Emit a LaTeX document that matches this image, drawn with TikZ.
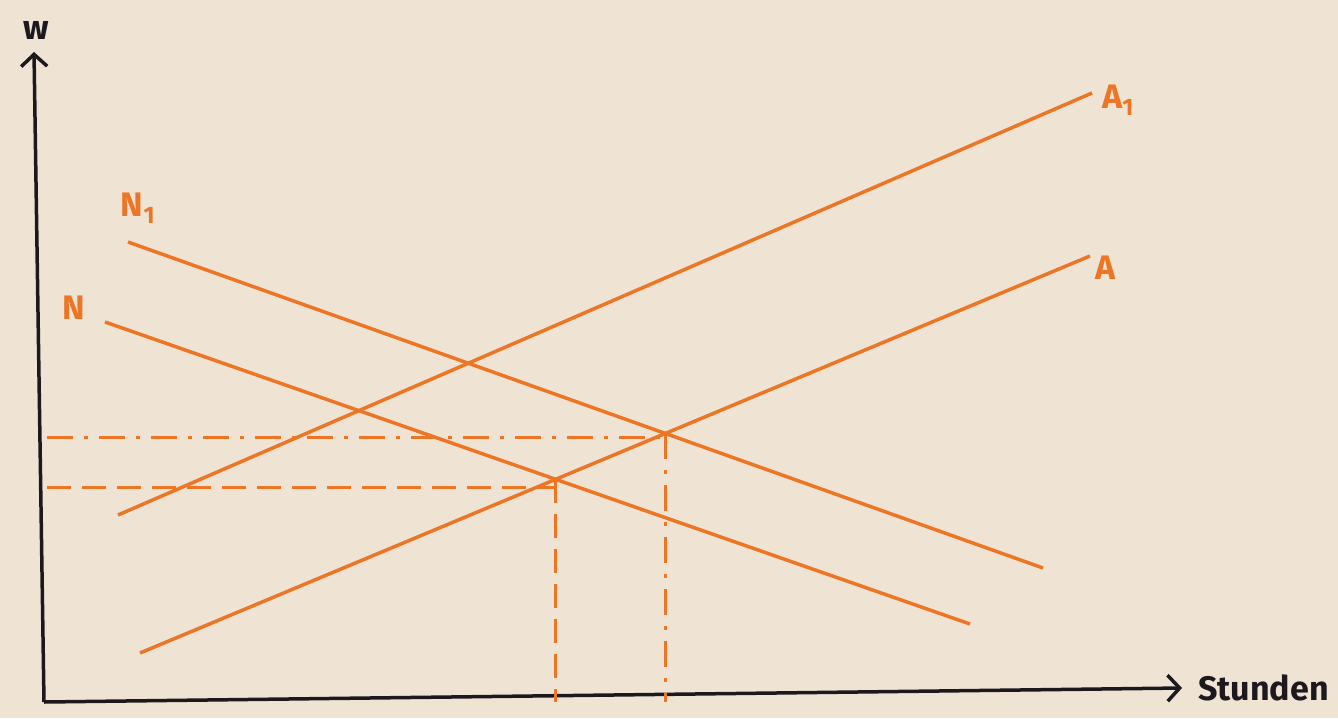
\documentclass[tikz,border=0pt]{standalone}
\usepackage{fontspec}
\setmainfont{Fira Sans}
\usetikzlibrary{arrows.meta}
\definecolor{paper}{RGB}{239,228,212}
\definecolor{pen}{RGB}{236,118,38}
\definecolor{ink}{RGB}{28,24,30}
\tikzset{
  curve/.style={draw=pen, line width=3.5pt},
  axis/.style={draw=ink, line width=3.5pt, -{Straight Barb[length=12pt,width=26pt,line width=3.5pt]}},
  lab/.style={text=pen, font=\fontsize{34}{36}\selectfont\bfseries, inner sep=0pt},
  axlab/.style={text=ink, font=\fontsize{34}{36}\selectfont\bfseries, inner sep=0pt},
  dashdot/.style={draw=pen, line width=3pt, dash pattern=on 26pt off 11pt on 4pt off 11pt},
  dashd/.style={draw=pen, line width=3pt, dash pattern=on 24pt off 11pt}
}
\begin{document}
\begin{tikzpicture}[x=1pt,y=-1pt]
\fill[paper] (0,0) rectangle (1338,718);
\useasboundingbox (0,0) rectangle (1338,718);
% axes
\coordinate (o) at (44,702);
\coordinate (ytop) at (34,52);
\coordinate (xend) at (1182,688);
\draw[axis] (o) -- (ytop);
\draw[axis] (o) -- (xend);
\node[axlab] (w) at (36,30) {w};
\node[axlab, anchor=west] (st) at (1198,688) {Stunden};
% curves
\coordinate (a1s) at (118,515); \coordinate (a1e) at (1092,93);
\coordinate (as) at (140,653);  \coordinate (ae) at (1090,256);
\coordinate (n1s) at (128,242); \coordinate (n1e) at (1043,568);
\coordinate (ns) at (105,322);  \coordinate (ne) at (970,624);
\draw[curve] (a1s) -- (a1e);
\draw[curve] (as) -- (ae);
\draw[curve] (n1s) -- (n1e);
\draw[curve] (ns) -- (ne);
\node[lab] (la1) at (1118,100) {A\textsubscript{1}};
\node[lab] (la) at (1106,268) {A};
\node[lab] (ln1) at (138,208) {N\textsubscript{1}};
\node[lab] (ln) at (74,308) {N};
% equilibria
\coordinate (e1) at (intersection of as--ae and n1s--n1e);
\coordinate (e0) at (intersection of as--ae and ns--ne);
\coordinate (y1) at (47,437);
\coordinate (y0) at (47,487);
\coordinate (x1) at (e1 |- o);
\coordinate (x0) at (e0 |- o);
\draw[dashdot] (y1) -- (e1 |- y1);
\draw[dashdot] (e1) -- (x1);
\draw[dashd] (y0) -- (e0 |- y0);
\draw[dashd] (e0) -- (x0);
\end{tikzpicture}
\end{document}
